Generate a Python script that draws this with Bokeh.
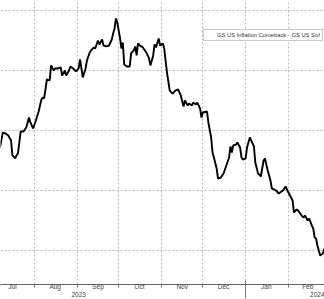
import pandas as pd
from bokeh.plotting import figure
from bokeh.models import (ColumnDataSource, FixedTicker, DatetimeTickFormatter, DatetimeAxis,
                          Range1d, Legend, LegendItem)
from bokeh.embed import file_html
from bokeh.resources import INLINE

# ---------------- data ----------------
series_label = "GS US Inflation Comeback - GS US Sof"

dates = [
    "2023-07-07", "2023-07-09", "2023-07-11", "2023-07-13", "2023-07-15", "2023-07-16",
    "2023-07-18", "2023-07-19", "2023-07-20", "2023-07-22", "2023-07-24", "2023-07-26",
    "2023-07-28", "2023-07-29", "2023-07-31", "2023-08-02", "2023-08-04", "2023-08-06",
    "2023-08-07", "2023-08-08", "2023-08-10", "2023-08-12", "2023-08-13", "2023-08-15",
    "2023-08-16", "2023-08-18", "2023-08-20", "2023-08-21", "2023-08-23", "2023-08-24",
    "2023-08-26", "2023-08-27", "2023-08-29", "2023-08-31", "2023-09-02", "2023-09-03",
    "2023-09-05", "2023-09-07", "2023-09-08", "2023-09-10", "2023-09-11", "2023-09-13",
    "2023-09-14", "2023-09-16", "2023-09-17", "2023-09-19", "2023-09-20", "2023-09-22",
    "2023-09-24", "2023-09-26", "2023-09-27", "2023-09-28", "2023-09-29", "2023-09-30",
    "2023-10-02", "2023-10-03", "2023-10-04", "2023-10-05", "2023-10-07", "2023-10-09",
    "2023-10-10", "2023-10-12", "2023-10-13", "2023-10-14", "2023-10-15", "2023-10-17",
    "2023-10-18", "2023-10-20", "2023-10-21", "2023-10-23", "2023-10-24", "2023-10-26",
    "2023-10-27", "2023-10-28", "2023-10-30", "2023-10-31", "2023-11-02", "2023-11-03",
    "2023-11-04", "2023-11-05", "2023-11-07", "2023-11-09", "2023-11-11", "2023-11-13",
    "2023-11-15", "2023-11-17", "2023-11-18", "2023-11-20", "2023-11-21", "2023-11-23",
    "2023-11-24", "2023-11-26", "2023-11-27", "2023-11-29", "2023-11-30", "2023-12-01",
    "2023-12-04", "2023-12-05", "2023-12-07", "2023-12-08", "2023-12-09", "2023-12-11",
    "2023-12-12", "2023-12-14", "2023-12-16", "2023-12-18", "2023-12-20", "2023-12-21",
    "2023-12-22", "2023-12-23", "2023-12-25", "2023-12-26", "2023-12-28", "2023-12-29",
    "2023-12-30", "2024-01-01", "2024-01-02", "2024-01-04", "2024-01-05", "2024-01-07",
    "2024-01-08", "2024-01-10", "2024-01-12", "2024-01-14", "2024-01-15", "2024-01-17",
    "2024-01-19", "2024-01-20", "2024-01-23", "2024-01-25", "2024-01-28", "2024-01-30",
    "2024-02-01", "2024-02-04", "2024-02-05", "2024-02-07", "2024-02-08", "2024-02-10",
    "2024-02-12", "2024-02-13", "2024-02-15", "2024-02-16", "2024-02-18", "2024-02-19",
    "2024-02-20", "2024-02-21", "2024-02-22", "2024-02-23", "2024-02-24", "2024-02-26",
    "2024-02-27",
]

values = [
    98.58, 99.83, 99.75, 99.58, 99.17, 97.92,
    97.67, 97.92, 98.08, 99.92, 99.92, 100.25,
    101.08, 100.67, 100.17, 100.83, 101.58, 102.58,
    102.75, 102.67, 104.25, 104.17, 105.42, 105.00,
    105.17, 105.17, 105.25, 104.58, 105.00, 104.58,
    105.00, 105.33, 105.17, 104.92, 105.17, 105.92,
    104.42, 105.17, 105.83, 106.50, 106.67, 106.92,
    106.83, 107.50, 107.17, 107.58, 107.08, 107.00,
    107.08, 107.58, 108.08, 108.50, 109.33, 109.00,
    107.67, 106.83, 107.33, 105.50, 105.33, 105.33,
    106.42, 106.67, 107.00, 106.25, 107.25, 107.00,
    107.00, 106.67, 106.50, 106.00, 105.42, 106.25,
    107.17, 106.92, 107.67, 107.08, 107.25, 106.83,
    105.83, 104.83, 103.33, 103.08, 103.33, 103.42,
    102.92, 102.00, 102.50, 102.08, 102.25, 102.08,
    102.33, 102.17, 102.33, 101.83, 101.08, 101.50,
    101.58, 100.67, 99.42, 98.17, 97.75, 96.83,
    96.00, 96.08, 96.42, 97.08, 97.75, 98.67,
    98.17, 98.75, 98.83, 99.00, 98.58, 97.75,
    97.58, 97.67, 98.58, 99.42, 99.17, 98.67,
    97.33, 96.42, 96.17, 97.50, 97.67, 96.67,
    95.83, 95.17, 95.00, 94.75, 95.00, 95.33,
    94.83, 94.17, 93.17, 93.42, 93.33, 93.00,
    92.75, 92.92, 92.50, 92.67, 92.08, 91.83,
    91.08, 91.00, 90.42, 90.00, 89.58, 89.75,
    90.17,
]

month_starts = ["2023-08-01", "2023-09-01", "2023-10-01", "2023-11-01",
                "2023-12-01", "2024-01-01", "2024-02-01"]
month_label_dates = ["2023-07-16", "2023-08-16", "2023-09-16", "2023-10-16",
                     "2023-11-16", "2023-12-16", "2024-01-16", "2024-02-15"]
year_label_dates = ["2023-09-02", "2024-02-23"]
year_breaks = ["2024-01-01"]
grid_levels = [90, 95, 100, 105, 110]


def ms(d):
    return pd.Timestamp(d).value / 1e6


# ---------------- figure ----------------
x_start = pd.Timestamp("2023-08-01") - pd.Timedelta(days=24.64)
x_end = pd.Timestamp("2023-08-01") + pd.Timedelta(days=210.14)

p = figure(width=324, height=299, x_axis_type="datetime", y_axis_location=None,
           output_backend="svg", toolbar_location=None,
           x_range=Range1d(ms(x_start), ms(x_end)),
           y_range=Range1d(87.17, 110.83),
           min_border=0, min_border_left=0, min_border_right=0,
           min_border_top=0, min_border_bottom=0)
p.outline_line_color = None
p.background_fill_color = "white"
p.border_fill_color = "white"

src = ColumnDataSource(dict(date=pd.to_datetime(dates), value=values))
p.line("date", "value", source=src, line_color="black", line_width=1.9)

# grids
p.xgrid.ticker = FixedTicker(ticks=[ms(d) for d in month_starts])
p.ygrid.ticker = FixedTicker(ticks=grid_levels)
for g in (p.xgrid, p.ygrid):
    g.grid_line_color = "#b8b8b8"
    g.grid_line_dash = "2 2"
    g.grid_line_width = 1

# month axis
ax = p.xaxis[0]
ax.ticker = FixedTicker(ticks=[ms(d) for d in month_label_dates],
                        minor_ticks=[ms(d) for d in month_starts])
fmt = "%b"
ax.formatter = DatetimeTickFormatter(milliseconds=fmt, seconds=fmt, minsec=fmt, minutes=fmt,
                                     hourmin=fmt, hours=fmt, days=fmt, months=fmt, years=fmt)
ax.major_tick_line_color = None
ax.major_tick_out = 0
ax.major_tick_in = 0
ax.minor_tick_line_color = "#777777"
ax.minor_tick_in = 0
ax.minor_tick_out = 3
ax.axis_line_color = "#666666"
ax.major_label_text_font = "Liberation Sans"
ax.major_label_text_font_size = "6.5px"
ax.major_label_text_color = "#444444"
ax.major_label_standoff = -5

# year axis
yfmt = "%Y"
yax = DatetimeAxis(
    ticker=FixedTicker(ticks=[ms(d) for d in year_label_dates],
                       minor_ticks=[ms(d) for d in year_breaks]),
    formatter=DatetimeTickFormatter(milliseconds=yfmt, seconds=yfmt, minsec=yfmt, minutes=yfmt,
                                    hourmin=yfmt, hours=yfmt, days=yfmt, months=yfmt, years=yfmt))
yax.axis_line_color = None
yax.major_tick_line_color = None
yax.major_tick_out = 0
yax.major_tick_in = 0
yax.minor_tick_line_color = "#777777"
yax.minor_tick_in = 12
yax.minor_tick_out = 6
yax.major_label_text_font = "Liberation Sans"
yax.major_label_text_font_size = "6.5px"
yax.major_label_text_color = "#444444"
yax.major_label_standoff = -7
p.add_layout(yax, "below")

# legend
leg_r = p.quad(left=[], right=[], top=[], bottom=[], fill_color="black", line_color="black")
legend = Legend(items=[LegendItem(label=series_label, renderers=[leg_r])],
                location=(203, 243), orientation="vertical",
                label_text_font="Liberation Sans", label_text_font_size="5.8px",
                label_text_color="#333333", label_height=6, label_standoff=6,
                glyph_height=5, glyph_width=5, padding=2, spacing=0, margin=0,
                border_line_color="#999999", border_line_width=1,
                background_fill_color="white", background_fill_alpha=1.0)
p.add_layout(legend, "center")

open("out.html", "w").write(file_html(p, INLINE))
